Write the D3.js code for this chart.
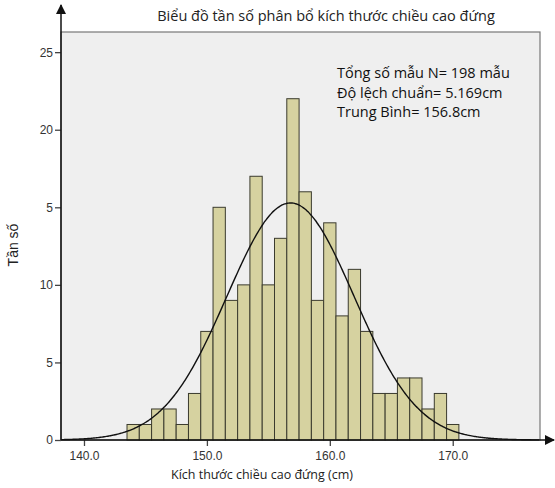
<!DOCTYPE html>
<html>
<head>
<meta charset="utf-8">
<script src="https://cdn.jsdelivr.net/npm/d3@7/dist/d3.min.js"></script>
<style>
  body { margin: 0; background: #fff; }
  svg { display: block; }
  .tick text { font-family: "Liberation Sans", Arial, sans-serif; font-size: 12px; fill: #333; }
</style>
</head>
<body>
<svg id="chart" width="555" height="488"></svg>
<script>
// histogram bins: centre of each 1 cm bin and its count
var binCenters = [144, 145, 146, 147, 148, 149, 150, 151, 152, 153, 154, 155, 156, 157,
                  158, 159, 160, 161, 162, 163, 164, 165, 166, 167, 168, 169, 170];
var counts     = [1, 1, 2, 2, 1, 3, 7, 15, 9, 10, 17, 10, 13, 22,
                  16, 9, 14, 8, 11, 7, 3, 3, 4, 4, 2, 3, 1];

var xTicks = [140, 150, 160, 170];
var yTicks = [0, 5, 10, 15, 20, 25];
var yTickLabels = ["0", "5", "10", "5", "20", "25"];   // as printed in the source

var sampleN = 198, stdDev = 5.169, mean = 156.8;
var notes = ["Tổng số mẫu N= 198 mẫu", "Độ lệch chuẩn= 5.169cm", "Trung Bình= 156.8cm"];

var svg = d3.select("#chart");
var plotL = 61, plotR = 540, plotT = 32, plotB = 440;

var x = d3.scaleLinear().domain([138.13, 177.1]).range([plotL, plotR]);
var y = d3.scaleLinear().domain([0, 26.3]).range([plotB, plotT]);

// plot background
svg.append("rect")
  .attr("x", plotL).attr("y", plotT)
  .attr("width", plotR - plotL).attr("height", plotB - plotT)
  .attr("fill", "#efefef")
  .attr("stroke", "#777").attr("stroke-width", 1.2);

// bars
svg.append("g").selectAll("rect")
  .data(binCenters)
  .enter().append("rect")
    .attr("x", function(d){ return x(d - 0.5); })
    .attr("y", function(d, i){ return y(counts[i]); })
    .attr("width", function(d){ return x(d + 0.5) - x(d - 0.5); })
    .attr("height", function(d, i){ return y(0) - y(counts[i]); })
    .attr("fill", "#d6d2a0")
    .attr("stroke", "#3b3b2e")
    .attr("stroke-width", 1);

// fitted normal curve (from the printed N, sd and mean)
var curvePts = d3.range(x.domain()[0], x.domain()[1] + 0.01, 0.1).map(function(v){
  var z = (v - mean) / stdDev;
  return [v, sampleN * Math.exp(-0.5 * z * z) / (stdDev * Math.sqrt(2 * Math.PI))];
});
svg.append("path")
  .datum(curvePts)
  .attr("fill", "none")
  .attr("stroke", "#111")
  .attr("stroke-width", 1.4)
  .attr("d", d3.line().curve(d3.curveBasis)
    .x(function(d){ return x(d[0]); })
    .y(function(d){ return y(d[1]); }));

// arrow marker
svg.append("defs").append("marker")
  .attr("id", "arrow").attr("viewBox", "0 0 10 10")
  .attr("refX", 9).attr("refY", 5)
  .attr("markerWidth", 10).attr("markerHeight", 10)
  .attr("markerUnits", "userSpaceOnUse")
  .attr("orient", "auto")
  .append("path").attr("d", "M0,0L10,5L0,10Z").attr("fill", "#111");

// axes
var xAxis = svg.append("g")
  .attr("transform", "translate(0," + plotB + ")")
  .call(d3.axisBottom(x).tickValues(xTicks).tickSize(6).tickPadding(5)
    .tickFormat(d3.format(".1f")));
xAxis.select(".domain").remove();
xAxis.selectAll(".tick line").attr("stroke", "#444").attr("stroke-width", 1.3);

var yAxis = svg.append("g")
  .attr("transform", "translate(" + plotL + ",0)")
  .call(d3.axisLeft(y).tickValues(yTicks).tickSize(6).tickPadding(2)
    .tickFormat(function(d, i){ return yTickLabels[i]; }));
yAxis.select(".domain").remove();
yAxis.selectAll(".tick line").attr("stroke", "#444").attr("stroke-width", 1.3);

svg.append("line")
  .attr("x1", plotL).attr("y1", plotB).attr("x2", 554).attr("y2", plotB)
  .attr("stroke", "#111").attr("stroke-width", 1.5)
  .attr("marker-end", "url(#arrow)");
svg.append("line")
  .attr("x1", plotL).attr("y1", plotB).attr("x2", plotL).attr("y2", 5)
  .attr("stroke", "#111").attr("stroke-width", 1.5)
  .attr("marker-end", "url(#arrow)");

// title and labels
var labelFont = '"Open Sans", "Noto Sans", sans-serif';
svg.append("text")
  .attr("x", 326).attr("y", 21)
  .attr("text-anchor", "middle")
  .style("font-family", labelFont).style("font-size", "14.5px").attr("fill", "#222")
  .text("Biểu đồ tần số phân bổ kích thước chiều cao đứng");

svg.append("text")
  .attr("x", 262).attr("y", 479)
  .attr("text-anchor", "middle")
  .style("font-family", labelFont).style("font-size", "12.5px").attr("fill", "#222")
  .text("Kích thước chiều cao đứng (cm)");

svg.append("text")
  .attr("transform", "translate(18,245) rotate(-90)")
  .attr("text-anchor", "middle")
  .style("font-family", '"Liberation Sans", Arial, sans-serif').style("font-size", "14px").attr("fill", "#222")
  .text("Tần số");

svg.append("g").selectAll("text")
  .data(notes)
  .enter().append("text")
    .attr("x", 337)
    .attr("y", function(d, i){ return 78 + i * 19.5; })
    .style("font-family", labelFont).style("font-size", "14.5px").attr("fill", "#111")
    .text(function(d){ return d; });
</script>
</body>
</html>
